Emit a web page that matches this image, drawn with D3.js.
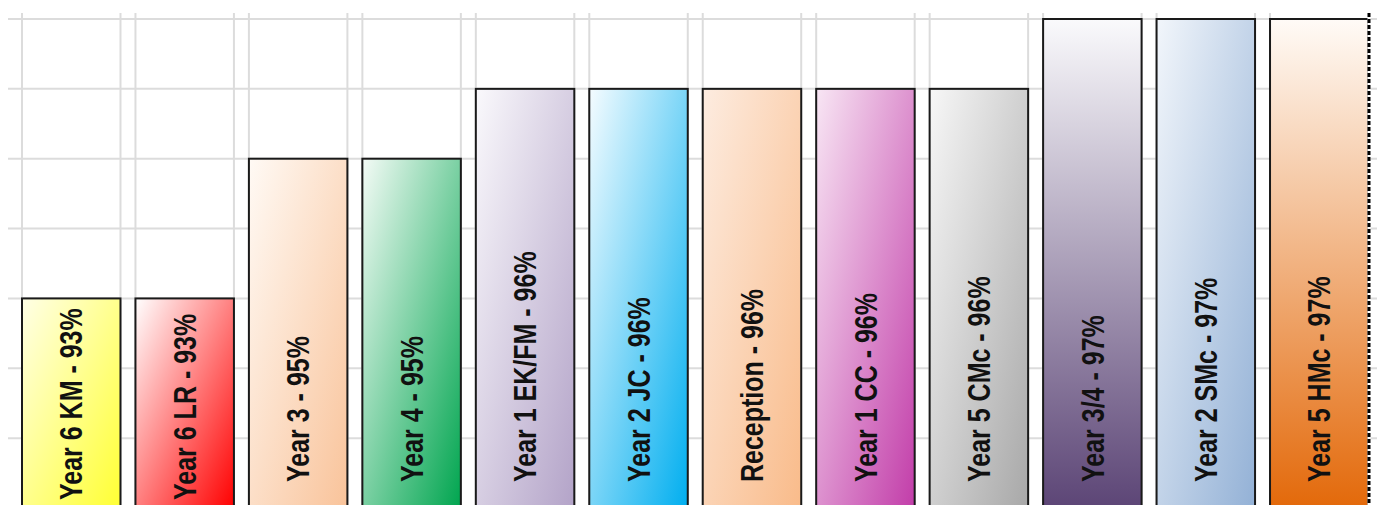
<!DOCTYPE html>
<html>
<head>
<meta charset="utf-8">
<script src="https://cdn.jsdelivr.net/npm/d3@7"></script>
<style>
  html, body { margin: 0; padding: 0; background: #ffffff; }
  svg { display: block; }
</style>
</head>
<body>
<svg id="chart" width="1377" height="505"></svg>
<script>
// ---- data ----
const categories = ["Year 6 KM", "Year 6 LR", "Year 3", "Year 4", "Year 1 EK/FM", "Year 2 JC",
                    "Reception", "Year 1 CC", "Year 5 CMc", "Year 3/4", "Year 2 SMc", "Year 5 HMc"];
const values = [93, 93, 95, 95, 96, 96, 96, 96, 96, 97, 97, 97];
const gridTicks = [91, 92, 93, 94, 95, 96, 97];
const lightColors = ["#ffffe6", "#ffffff", "#fffaf5", "#f4fbf6", "#faf9fc", "#f5fcff",
                     "#fdece0", "#f8e6f4", "#f7f7f7", "#fafafc", "#f2f6fb", "#fffbf7"];
const darkColors  = ["#ffff33", "#ff0000", "#f9c39a", "#00a54f", "#b3a3c8", "#00aeef",
                     "#f9bb8a", "#c23da9", "#a8a8a8", "#5c4576", "#93b1d6", "#e3690a"];
const gradientDir = ["diag", "diag", "diag", "diag", "diag", "diag",
                     "diag", "diag", "diag", "vert", "diag", "vert"];

const data = categories.map((c, i) => ({ cat: c, value: values[i], i }));

const svg = d3.select("#chart");
const W = 1377, H = 505;

const x = d3.scaleBand()
  .domain(categories)
  .range([22, 1368.5])
  .paddingInner(0.132)
  .paddingOuter(0);

const y = d3.scaleLinear().domain([90, 97]).range([508, 19]);

// gradients
const defs = svg.append("defs");
data.forEach(d => {
  const g = defs.append("linearGradient")
    .attr("id", "grad" + d.i)
    .attr("x1", 0).attr("y1", 0)
    .attr("x2", gradientDir[d.i] === "vert" ? 0 : 1)
    .attr("y2", 1);
  g.append("stop").attr("offset", "0%").attr("stop-color", lightColors[d.i]);
  g.append("stop").attr("offset", "100%").attr("stop-color", darkColors[d.i]);
});

// horizontal gridlines
svg.append("g").selectAll("line").data(gridTicks).join("line")
  .attr("x1", 8).attr("x2", W)
  .attr("y1", d => y(d)).attr("y2", d => y(d))
  .attr("stroke", "#dcdcdc").attr("stroke-width", 2);

// vertical gridlines at bar edges
const edges = [];
categories.forEach(c => { edges.push(x(c)); edges.push(x(c) + x.bandwidth()); });
svg.append("g").selectAll("line").data(edges).join("line")
  .attr("x1", d => d).attr("x2", d => d)
  .attr("y1", 13).attr("y2", H)
  .attr("stroke", "#dcdcdc").attr("stroke-width", 2);

// bars
svg.append("g").selectAll("rect").data(data).join("rect")
  .attr("x", d => x(d.cat))
  .attr("y", d => y(d.value))
  .attr("width", x.bandwidth())
  .attr("height", d => y(90) - y(d.value))
  .attr("fill", d => `url(#grad${d.i})`)
  .attr("stroke", "#1a1a1a")
  .attr("stroke-width", 2);

// dashed plot-area border on the right
const rx = Math.round(x(categories[categories.length - 1]) + x.bandwidth());
svg.append("line").attr("x1", rx).attr("x2", rx).attr("y1", 13).attr("y2", H)
  .attr("stroke", "#ffffff").attr("stroke-width", 3);
svg.append("line").attr("x1", rx).attr("x2", rx).attr("y1", 13).attr("y2", H)
  .attr("stroke", "#000").attr("stroke-width", 3).attr("stroke-dasharray", "4,2");

// labels
const labelStart = d => d.value <= 93 ? 500 : 482;
svg.append("g").selectAll("text").data(data).join("text")
  .attr("transform", d => `translate(${x(d.cat) + x.bandwidth() / 2},${labelStart(d)}) scale(1.24,1) rotate(-90)`)
  .attr("dy", "0.36em")
  .attr("text-anchor", "start")
  .attr("font-family", "'Liberation Sans', Arial, sans-serif")
  .attr("font-weight", "bold")
  .attr("font-size", 25)
  .attr("fill", "#111")
  .text(d => `${d.cat} - ${d.value}%`);
</script>
</body>
</html>
